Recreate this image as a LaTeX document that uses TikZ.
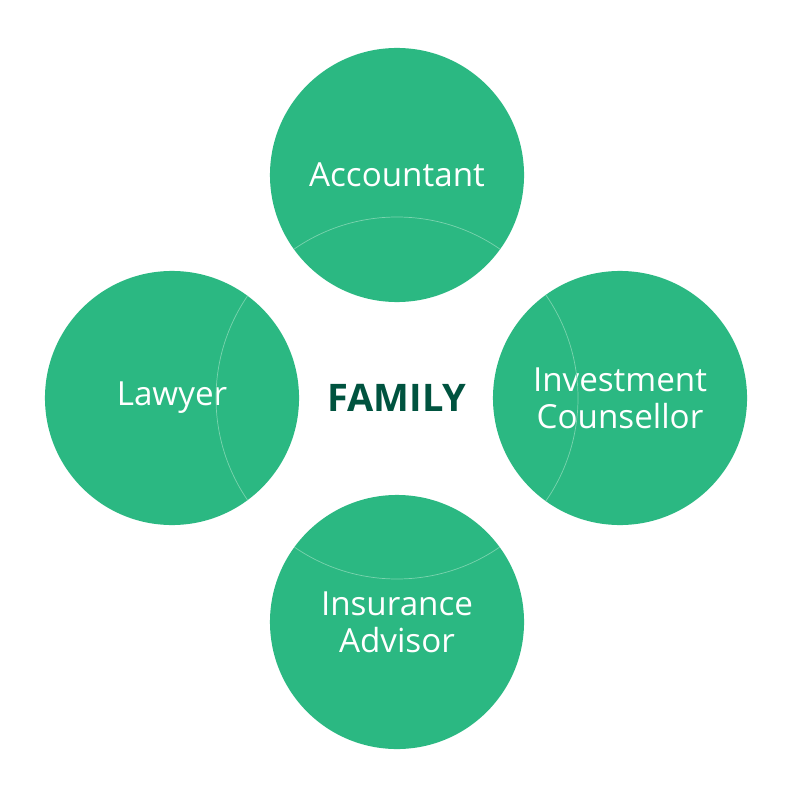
\documentclass[tikz,border=0pt]{standalone}
\usepackage{fontspec}
\setmainfont{Open Sans}
\usetikzlibrary{positioning}
\definecolor{leaf}{HTML}{2BB882}
\definecolor{pine}{HTML}{00533F}
\definecolor{seam}{HTML}{7AD3AE}

\begin{document}
\begin{tikzpicture}[x = 0.025cm, y = -0.025cm,
  role/.style = {circle, fill = leaf, minimum size = 6.35cm, inner sep = 0pt,
    text = white, align = center, font = \fontsize{23.6}{26.5}\selectfont}]
\def\rolerad{127}
\def\ringrad{181}
\useasboundingbox (0,0) rectangle (800,800);
              %centre word
\node [text = pine, font = \fontsize{27}{30}\selectfont\bfseries] (family) at (397,398) {FAMILY};
              %the four advisers
\node [role] (accountant) at (397,175) {Accountant};
\node [role] (lawyer) at (172,398) {Lawyer};
\node [role] (investment) at (620,398) {Investment\\Counsellor};
\node [role] (insurance) at (397,622) {Insurance\\Advisor};
              %faint ring through the circles
\begin{scope}
\clip (accountant.center) circle (\rolerad) (lawyer.center) circle (\rolerad)
      (investment.center) circle (\rolerad) (insurance.center) circle (\rolerad);
\draw [seam, line width = 0.5pt] (family.center) circle (\ringrad);
\end{scope}
\end{tikzpicture}
\end{document}
